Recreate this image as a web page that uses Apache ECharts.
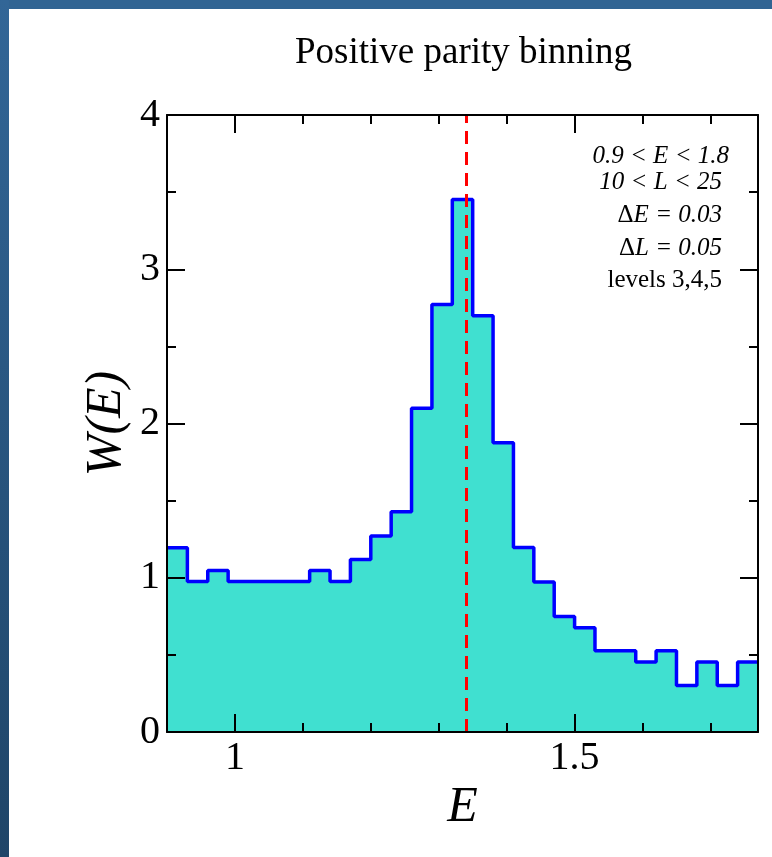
<!DOCTYPE html>
<html>
<head>
<meta charset="utf-8">
<script src="https://cdn.jsdelivr.net/npm/echarts@6/dist/echarts.min.js"></script>
<style>
  html, body { margin: 0; padding: 0; background: #ffffff; }
  #bandTop { position: absolute; left: 0; top: 0; width: 772px; height: 9px; background: #316493; }
  #bandLeft { position: absolute; left: 0; top: 0; width: 9px; height: 857px; background: linear-gradient(#326697, #1f4568); }
  #chart { position: absolute; left: 0; top: 0; width: 772px; height: 857px; }
</style>
</head>
<body>
<div id="bandTop"></div>
<div id="bandLeft"></div>
<div id="chart"></div>
<script>
// ---- data ----
const binEdges = [0.90, 0.93, 0.96, 0.99, 1.02, 1.05, 1.08, 1.11, 1.14, 1.17,
                  1.20, 1.23, 1.26, 1.29, 1.32, 1.35, 1.38, 1.41, 1.44, 1.47,
                  1.50, 1.53, 1.56, 1.59, 1.62, 1.65, 1.68, 1.71, 1.74, 1.77];
const binValues = [1.194, 0.976, 1.047, 0.976, 0.976, 0.976, 0.976, 1.047, 0.976, 1.118,
                   1.270, 1.428, 2.099, 2.771, 3.452, 2.698, 1.875, 1.196, 0.972, 0.749,
                   0.676, 0.526, 0.526, 0.453, 0.526, 0.302, 0.453, 0.302, 0.453];
const peakLine = [1.343];
const xMajorTicks = [1.0, 1.5];
const xMinorTicks = [1.1, 1.2, 1.3, 1.4, 1.6, 1.7];
const xTickLabels = ['1', '1.5'];
const yRange = [0, 4];
const annotationLines = ['0.9 < E < 1.8', '10 < L < 25', 'ΔE = 0.03', 'ΔL = 0.05', 'levels 3,4,5'];

const SERIF = "'Liberation Serif', 'DejaVu Serif', serif";

// step-line data: left edge of each bin, plus closing point at the last edge
const stepData = binEdges.map((e, i) => [e, binValues[Math.min(i, binValues.length - 1)]]);

const chart = echarts.init(document.getElementById('chart'), null, { renderer: 'canvas' });

const xBase = {
  type: 'value', min: binEdges[0], max: binEdges[binEdges.length - 1],
  splitLine: { show: false }, z: 10
};
const yBase = {
  type: 'value', min: yRange[0], max: yRange[1], interval: 1,
  splitLine: { show: false }, z: 10,
  axisLine: { show: true, lineStyle: { color: '#000', width: 2 } },
  axisTick: { show: true, inside: true, length: 18, lineStyle: { color: '#000', width: 2 } },
  minorTick: { show: true, splitNumber: 2, length: 9, lineStyle: { color: '#000', width: 2 } }
};

const FS = 25;
const option = {
  animation: false,
  backgroundColor: 'transparent',
  title: {
    text: 'Positive parity binning',
    left: 290, top: 30,
    textStyle: { fontFamily: SERIF, fontSize: 37, fontWeight: 'normal', color: '#000' }
  },
  grid: { left: 167, top: 115, width: 591, height: 617 },
  xAxis: [
    Object.assign({}, xBase, {
      position: 'bottom',
      name: 'E', nameLocation: 'middle', nameGap: 46,
      nameTextStyle: { fontFamily: SERIF, fontSize: 50, fontStyle: 'italic', color: '#000' },
      axisLine: { show: true, onZero: false, lineStyle: { color: '#000', width: 2 } },
      axisTick: { show: true, inside: true, length: 18, customValues: xMajorTicks, lineStyle: { color: '#000', width: 2 } },
      axisLabel: {
        show: true, customValues: xMajorTicks, margin: 6,
        formatter: v => xTickLabels[xMajorTicks.findIndex(t => Math.abs(t - v) < 1e-6)] || '',
        fontFamily: SERIF, fontSize: 40, color: '#000'
      }
    }),
    Object.assign({}, xBase, {
      position: 'bottom',
      axisLine: { show: false, onZero: false },
      axisTick: { show: true, inside: true, length: 9, customValues: xMinorTicks, lineStyle: { color: '#000', width: 2 } },
      axisLabel: { show: false }
    }),
    Object.assign({}, xBase, {
      position: 'top',
      axisLine: { show: true, onZero: false, lineStyle: { color: '#000', width: 2 } },
      axisTick: { show: true, inside: true, length: 18, customValues: xMajorTicks, lineStyle: { color: '#000', width: 2 } },
      axisLabel: { show: false }
    }),
    Object.assign({}, xBase, {
      position: 'top',
      axisLine: { show: false, onZero: false },
      axisTick: { show: true, inside: true, length: 9, customValues: xMinorTicks, lineStyle: { color: '#000', width: 2 } },
      axisLabel: { show: false }
    })
  ],
  yAxis: [
    Object.assign({}, yBase, {
      position: 'left',
      name: 'W(E)', nameLocation: 'middle', nameGap: 35, nameRotate: 90,
      nameMoveOverlap: false,
      nameTextStyle: { fontFamily: SERIF, fontSize: 50, fontStyle: 'italic', color: '#000' },
      axisLabel: { show: true, margin: 7, fontFamily: SERIF, fontSize: 40, color: '#000' }
    }),
    Object.assign({}, yBase, {
      position: 'right',
      axisLabel: { show: false }
    })
  ],
  series: [
    {
      type: 'line',
      xAxisIndex: 0, yAxisIndex: 0,
      data: stepData,
      step: 'end',
      showSymbol: false,
      symbol: 'none',
      z: 2,
      lineStyle: { color: '#0000ff', width: 3.5 },
      areaStyle: { color: '#40e0d0', opacity: 1, origin: 'start' },
      markLine: {
        silent: true,
        symbol: 'none',
        label: { show: false },
        lineStyle: { color: '#ff0000', width: 3, type: [13, 8] },
        data: peakLine.map(v => ({ xAxis: v }))
      }
    }
  ],
  graphic: [
    { type: 'text', x: 729, y: 156, z: 20,
      style: { text: annotationLines[0], align: 'right', verticalAlign: 'middle', font: "italic " + FS + "px 'Liberation Serif'", fill: '#000' } },
    { type: 'text', x: 722, y: 182, z: 20,
      style: { text: annotationLines[1], align: 'right', verticalAlign: 'middle', font: "italic " + FS + "px 'Liberation Serif'", fill: '#000' } },
    { type: 'text', x: 722, y: 215, z: 20,
      style: { text: '{u|Δ}{i|' + annotationLines[2].slice(1) + '}', align: 'right', verticalAlign: 'middle',
        rich: { u: { fontFamily: 'Liberation Serif', fontSize: FS, fill: '#000' },
                i: { fontFamily: 'Liberation Serif', fontSize: FS, fontStyle: 'italic', fill: '#000' } } } },
    { type: 'text', x: 722, y: 248, z: 20,
      style: { text: '{u|Δ}{i|' + annotationLines[3].slice(1) + '}', align: 'right', verticalAlign: 'middle',
        rich: { u: { fontFamily: 'Liberation Serif', fontSize: FS, fill: '#000' },
                i: { fontFamily: 'Liberation Serif', fontSize: FS, fontStyle: 'italic', fill: '#000' } } } },
    { type: 'text', x: 722, y: 280, z: 20,
      style: { text: annotationLines[4], align: 'right', verticalAlign: 'middle', font: FS + "px 'Liberation Serif'", fill: '#000' } }
  ]
};

chart.setOption(option);
</script>
</body>
</html>
